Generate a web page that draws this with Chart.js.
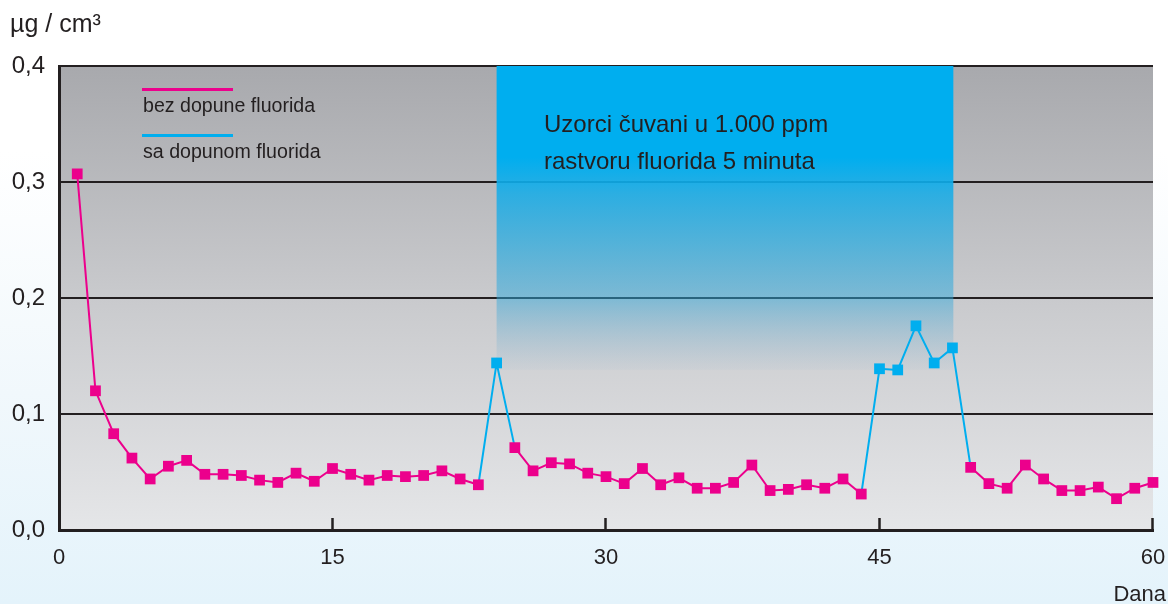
<!DOCTYPE html>
<html>
<head>
<meta charset="utf-8">
<style>
  html, body { margin: 0; padding: 0; }
  body {
    width: 1168px; height: 604px; overflow: hidden;
    background: linear-gradient(to bottom, #ffffff 0%, #ffffff 25%, #f1f8fc 65%, #e4f3fb 100%);
  }
  #wrap { position: relative; width: 1168px; height: 604px; }
</style>
<script src="https://cdn.jsdelivr.net/npm/chart.js@4.4.1/dist/chart.umd.min.js"></script>
</head>
<body>
<div id="wrap"><canvas id="fluorChart"></canvas></div>
<script>
// Dani mjerenja
const days = [1, 2, 3, 4, 5, 6, 7, 8, 9, 10, 11, 12, 13, 14, 15, 16, 17, 18, 19, 20,
              21, 22, 23, 24, 25, 26, 27, 28, 29, 30, 31, 32, 33, 34, 35, 36, 37, 38, 39, 40,
              41, 42, 43, 44, 45, 46, 47, 48, 49, 50, 51, 52, 53, 54, 55, 56, 57, 58, 59, 60];

// bez dopune fluorida (null = dan s dopunom)
const bezDopune = [0.307, 0.120, 0.083, 0.062, 0.044, 0.055, 0.060, 0.048, 0.048, 0.047,
                   0.043, 0.041, 0.049, 0.042, 0.053, 0.048, 0.043, 0.047, 0.046, 0.047,
                   0.051, 0.044, 0.039, null, 0.071, 0.051, 0.058, 0.057, 0.049, 0.046,
                   0.040, 0.053, 0.039, 0.045, 0.036, 0.036, 0.041, 0.056, 0.034, 0.035,
                   0.039, 0.036, 0.044, 0.031, null, null, null, null, null, 0.054,
                   0.040, 0.036, 0.056, 0.044, 0.034, 0.034, 0.037, 0.027, 0.036, 0.041];

// sa dopunom fluorida (samo dani nakon čuvanja u rastvoru)
const saDopunom = [null, null, null, null, null, null, null, null, null, null,
                   null, null, null, null, null, null, null, null, null, null,
                   null, null, null, 0.144, null, null, null, null, null, null,
                   null, null, null, null, null, null, null, null, null, null,
                   null, null, null, null, 0.139, 0.138, 0.176, 0.144, 0.157, null,
                   null, null, null, null, null, null, null, null, null, null];

const xTicks = [0, 15, 30, 45, 60];
const yTicks = [0, 0.1, 0.2, 0.3, 0.4];

// perioda čuvanja u 1.000 ppm rastvoru
const soakStart = 24;
const soakEnd = 49.05;
const soakBottom = 0.138;

const PINK = '#ec008c';
const BLUE = '#00aeef';
const INK = '#231f20';
const FONT = '"Liberation Sans", Arial, Helvetica, sans-serif';

const pinkData = days.map((d, i) => ({ x: d, y: bezDopune[i] }));
// plava linija spaja i susjedne dane bez dopune
const blueData = days.map((d, i) => {
    if (saDopunom[i] != null) return { x: d, y: saDopunom[i] };
    const near = (saDopunom[i - 1] != null) || (saDopunom[i + 1] != null);
    return { x: d, y: near ? bezDopune[i] : null };
});

const decorPlugin = {
    id: 'decor',
    beforeDraw(chart) {
        const { ctx, chartArea: a } = chart;
        const g = ctx.createLinearGradient(0, a.top, 0, a.bottom);
        g.addColorStop(0, '#a8a9ad');
        g.addColorStop(0.5, '#c9cacd');
        g.addColorStop(1, '#e5e6e8');
        ctx.save();
        ctx.fillStyle = g;
        ctx.fillRect(a.left, a.top, a.right - a.left, a.bottom - a.top);
        ctx.restore();
    },
    beforeDatasetsDraw(chart) {
        const { ctx, chartArea: a, scales: { x, y } } = chart;
        const left = x.getPixelForValue(soakStart);
        const right = x.getPixelForValue(soakEnd);
        const top = y.getPixelForValue(0.4);
        const bottom = y.getPixelForValue(soakBottom);
        const g = ctx.createLinearGradient(0, top, 0, bottom);
        g.addColorStop(0, 'rgba(0,174,239,1)');
        g.addColorStop(0.3, 'rgba(0,174,239,1)');
        g.addColorStop(0.42, 'rgba(20,172,232,0.86)');
        g.addColorStop(0.76, 'rgba(47,169,220,0.5)');
        g.addColorStop(1, 'rgba(120,170,205,0.06)');
        ctx.save();
        ctx.fillStyle = g;
        ctx.fillRect(left, top, right - left, bottom - top);

        ctx.fillStyle = INK;
        ctx.font = '24px ' + FONT;
        ctx.textAlign = 'left';
        ctx.textBaseline = 'alphabetic';
        ctx.fillText('Uzorci čuvani u 1.000 ppm', 544, 132);
        ctx.fillText('rastvoru fluorida 5 minuta', 544, 169);

        // unutrašnje crtice na x osi
        ctx.strokeStyle = INK;
        ctx.lineWidth = 2.5;
        xTicks.slice(1).forEach(v => {
            const px = Math.round(x.getPixelForValue(v)) - 0.5;
            ctx.beginPath();
            ctx.moveTo(px, a.bottom);
            ctx.lineTo(px, a.bottom - 12);
            ctx.stroke();
        });
        ctx.restore();
    },
    afterDraw(chart) {
        const { ctx } = chart;
        ctx.save();
        ctx.fillStyle = INK;
        ctx.textBaseline = 'alphabetic';
        ctx.font = '25px ' + FONT;
        ctx.textAlign = 'left';
        ctx.fillText('µg / cm³', 10, 32);
        ctx.font = '22px ' + FONT;
        ctx.textAlign = 'right';
        ctx.fillText('Dana', 1166, 601);

        // legenda
        ctx.lineWidth = 3;
        ctx.strokeStyle = PINK;
        ctx.beginPath(); ctx.moveTo(142, 89.5); ctx.lineTo(233, 89.5); ctx.stroke();
        ctx.strokeStyle = BLUE;
        ctx.beginPath(); ctx.moveTo(142, 135.5); ctx.lineTo(233, 135.5); ctx.stroke();
        ctx.font = '19.6px ' + FONT;
        ctx.textAlign = 'left';
        ctx.fillText('bez dopune fluorida', 143, 112);
        ctx.fillText('sa dopunom fluorida', 143, 158);
        ctx.restore();
    }
};

Chart.defaults.font.family = FONT;
Chart.defaults.color = INK;

const ctx = document.getElementById('fluorChart').getContext('2d');
new Chart(ctx, {
    type: 'line',
    data: {
        datasets: [
            {
                label: 'bez dopune fluorida',
                data: pinkData,
                borderColor: PINK,
                backgroundColor: PINK,
                borderWidth: 2,
                pointStyle: 'rect',
                pointRadius: 7.6,
                pointBorderWidth: 0,
                spanGaps: false,
                clip: false,
                tension: 0
            },
            {
                label: 'sa dopunom fluorida',
                data: blueData,
                borderColor: BLUE,
                backgroundColor: BLUE,
                borderWidth: 2,
                pointStyle: 'rect',
                pointRadius: c => saDopunom[c.dataIndex] != null ? 7.6 : 0,
                pointBorderWidth: 0,
                spanGaps: false,
                clip: false,
                tension: 0
            }
        ]
    },
    options: {
        responsive: true,
        maintainAspectRatio: false,
        animation: false,
        layout: { padding: { left: 0, top: 66, right: 15, bottom: 0 } },
        plugins: {
            legend: { display: false },
            tooltip: { enabled: false }
        },
        scales: {
            x: {
                type: 'linear',
                min: 0,
                max: 60,
                afterBuildTicks: s => { s.ticks = xTicks.map(v => ({ value: v })); },
                afterFit: s => { s.height = 74; s.paddingLeft = 0; s.paddingRight = 0; },
                grid: { display: false, drawTicks: false },
                border: { display: true, color: INK, width: 3 },
                ticks: { font: { size: 22 }, color: INK, padding: 15, maxRotation: 0 }
            },
            y: {
                min: 0,
                max: 0.4,
                afterBuildTicks: s => { s.ticks = yTicks.map(v => ({ value: v })); },
                afterFit: s => { s.width = 59; },
                grid: { color: INK, lineWidth: 2, drawTicks: false },
                border: { display: true, color: INK, width: 3 },
                ticks: {
                    font: { size: 24 },
                    color: INK,
                    padding: 14,
                    callback: v => v.toFixed(1).replace('.', ',')
                }
            }
        }
    },
    plugins: [decorPlugin]
});
</script>
</body>
</html>
